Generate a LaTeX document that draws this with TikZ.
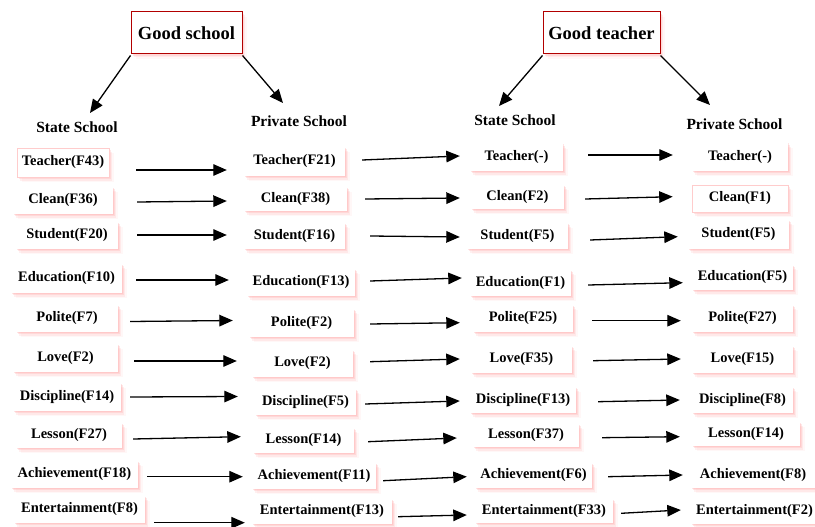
\documentclass[tikz,border=0pt]{standalone}
\usepackage{fontspec}
\setmainfont{Liberation Serif}
\usetikzlibrary{arrows.meta,calc,shadows}
\tikzset{
  glow/.style={
    drop shadow={shadow xshift=0.5pt,shadow yshift=-0.5pt,fill=red!40,opacity=0.25},
    drop shadow={shadow xshift=1.5pt,shadow yshift=-2pt,fill=red!40,opacity=0.22},
    drop shadow={shadow xshift=3pt,shadow yshift=-3.5pt,fill=red!35,opacity=0.16},
    drop shadow={shadow xshift=4.5pt,shadow yshift=-5pt,fill=red!30,opacity=0.1}},
  box/.style={glow,fill=white,inner sep=0pt,font=\bfseries\fontsize{14.5}{16}\selectfont,text=black},
  pinkedge/.style={draw=red!20,line width=0.6pt},
  titlebox/.style={glow,fill=white,draw=red!70!black,line width=1pt,inner sep=0pt,
    font=\bfseries\fontsize{18.5}{20}\selectfont},
  head/.style={font=\bfseries\fontsize{15.5}{18}\selectfont,inner sep=0pt},
  arr/.style={-{Triangle[length=13.5pt,width=11.5pt]},line width=1.3pt},
}
\newcommand\bx[7][]{\node[box,#1,minimum width=#5pt,minimum height=#6pt] (#2) at (#3,#4) {#7};}
\begin{document}
\begin{tikzpicture}[x=1pt,y=-1pt]
\fill[white] (0,0) rectangle (815,527);
\useasboundingbox (0,0) rectangle (815,527);

% titles
\node[titlebox,minimum width=111pt,minimum height=42pt] (gs) at (186.5,33) {Good school};
\node[titlebox,minimum width=117pt,minimum height=42pt] (gt) at (601.5,33) {Good teacher};

% headings
\node[head] (h1) at (77,127) {State School};
\node[head] (h2) at (299,121) {Private School};
\node[head] (h3) at (515,120) {State School};
\node[head] (h4) at (734.5,124) {Private School};

% column 1
\bx[pinkedge]{a1}{63}{162.5}{92}{29}{Teacher(F43)}
\bx{a2}{63}{200.5}{100}{27}{Clean(F36)}
\bx{a3}{67}{235.5}{102}{27}{Student(F20)}
\bx{a4}{66.5}{278.5}{111}{29}{Education(F10)}
\bx{a5}{67}{318.5}{102}{27}{Polite(F7)}
\bx{a6}{65.5}{358}{105}{28}{Love(F2)}
\bx{a7}{67}{397}{108}{28}{Discipline(F14)}
\bx{a8}{69}{435.5}{106}{25}{Lesson(F27)}
\bx{a9}{74.5}{474.5}{127}{27}{Achievement(F18)}
\bx{a10}{79.5}{509.5}{131}{27}{Entertainment(F8)}

% column 2
\bx{b1}{294.5}{161.5}{101}{29}{Teacher(F21)}
\bx{b2}{295.5}{199}{103}{24}{Clean(F38)}
\bx{b3}{294.5}{236}{101}{26}{Student(F16)}
\bx{b4}{301}{282.5}{108}{27}{Education(F13)}
\bx{b5}{301.5}{323}{105}{28}{Polite(F2)}
\bx{b6}{302.5}{363.5}{101}{27}{Love(F2)}
\bx{b7}{305.5}{402}{101}{26}{Discipline(F5)}
\bx{b8}{303.5}{440.5}{101}{25}{Lesson(F14)}
\bx{b9}{314}{476}{124}{26}{Achievement(F11)}
\bx{b10}{322}{511.5}{140}{25}{Entertainment(F13)}

% column 3
\bx{c1}{516.5}{157.5}{93}{27}{Teacher(-)}
\bx{c2}{517.5}{197}{93}{24}{Clean(F2)}
\bx{c3}{517.5}{236}{101}{26}{Student(F5)}
\bx{c4}{520.5}{283}{101}{26}{Education(F1)}
\bx{c5}{523}{318.5}{100}{27}{Polite(F25)}
\bx{c6}{521.5}{359.5}{101}{27}{Love(F35)}
\bx{c7}{523}{400}{106}{26}{Discipline(F13)}
\bx{c8}{526}{435.5}{106}{23}{Lesson(F37)}
\bx{c9}{533.5}{475.5}{117}{25}{Achievement(F6)}
\bx{c10}{544}{511}{138}{24}{Entertainment(F33)}

% column 4
\bx{d1}{740}{157}{96}{28}{Teacher(-)}
\bx[pinkedge]{d2}{740}{198.5}{96}{27}{Clean(F1)}
\bx{d3}{738.5}{234.5}{101}{29}{Student(F5)}
\bx{d4}{742.5}{277.5}{101}{25}{Education(F5)}
\bx{d5}{742.5}{318.5}{101}{27}{Polite(F27)}
\bx{d6}{742.5}{359.5}{101}{27}{Love(F15)}
\bx{d7}{742.5}{400}{101}{26}{Discipline(F8)}
\bx{d8}{746}{434}{108}{24}{Lesson(F14)}
\bx{d9}{753}{475}{124}{26}{Achievement(F8)}
\bx{d10}{754.5}{511.5}{127}{25}{Entertainment(F2)}

% title arrows
\draw[arr] ($(gs.south west)+(0,1)$) -- ($(h1.center)+(13,-14)$);
\draw[arr] ($(gs.south east)+(0,1)$) -- ($(h2.center)+(-16,-18)$);
\draw[arr] ($(gt.south west)+(0,1)$) -- ($(h3.center)+(-16,-14)$);
\draw[arr] ($(gt.south east)+(0,1)$) -- ($(h4.center)+(-24.5,-19)$);

% column 1 -> column 2
\draw[arr] ($(a1.east)+(27,7.5)$) -- ($(b1.west)+(-17,8.5)$);
\draw[arr] ($(a2.east)+(24,1.5)$) -- ($(b2.west)+(-17,2)$);
\draw[arr] ($(a3.east)+(19,-0.5)$) -- ($(b3.west)+(-17,-1)$);
\draw[arr] ($(a4.east)+(14,1.5)$) -- ($(b4.west)+(-18,-2.5)$);
\draw[arr] ($(a5.east)+(12,3)$) -- ($(b5.west)+(-16,-2.5)$);
\draw[arr] ($(a6.east)+(16,3)$) -- ($(b6.west)+(-15,-2.5)$);
\draw[arr] ($(a7.east)+(9,0)$) -- ($(b7.west)+(-17,-5.5)$);
\draw[arr] ($(a8.east)+(11,3.5)$) -- ($(b8.west)+(-12,-3.8)$);
\draw[arr] ($(a9.east)+(9,2.2)$) -- ($(b9.west)+(-9,0.7)$);
\draw[arr] ($(a10.east)+(9,13.2)$) -- ($(b10.west)+(-7,11.2)$);

% column 2 -> column 3
\draw[arr] ($(b1.east)+(17,-1.5)$) -- ($(c1.west)+(-10,-1.5)$);
\draw[arr] ($(b2.east)+(18,0)$) -- ($(c2.west)+(-11,1)$);
\draw[arr] ($(b3.east)+(25,0)$) -- ($(c3.west)+(-7,1)$);
\draw[arr] ($(b4.east)+(15,-1.5)$) -- ($(c4.west)+(-8,-5)$);
\draw[arr] ($(b5.east)+(16,1)$) -- ($(c5.west)+(-13,4.2)$);
\draw[arr] ($(b6.east)+(17,-1.8)$) -- ($(c6.west)+(-11,-0.5)$);
\draw[arr] ($(b7.east)+(9,2)$) -- ($(c7.west)+(-10,1)$);
\draw[arr] ($(b8.east)+(14,1.2)$) -- ($(c8.west)+(-16,2.5)$);
\draw[arr] ($(b9.east)+(7,4.7)$) -- ($(c9.west)+(-8,1.2)$);
\draw[arr] ($(b10.east)+(6,5.2)$) -- ($(c10.west)+(-8,4)$);

% column 3 -> column 4
\draw[arr] ($(c1.east)+(25,-2.5)$) -- ($(d1.west)+(-19,-2)$);
\draw[arr] ($(c2.east)+(21,2)$) -- ($(d2.west)+(-19,-1.8)$);
\draw[arr] ($(c3.east)+(22,4)$) -- ($(d3.west)+(-10,2.2)$);
\draw[arr] ($(c4.east)+(17,2)$) -- ($(d4.west)+(-9,5.2)$);
\draw[arr] ($(c5.east)+(19,2.2)$) -- ($(d5.west)+(-11,2.2)$);
\draw[arr] ($(c6.east)+(21,1.2)$) -- ($(d6.west)+(-11,-0.5)$);
\draw[arr] ($(c7.east)+(22,1.7)$) -- ($(d7.west)+(-12,0)$);
\draw[arr] ($(c8.east)+(23,2.2)$) -- ($(d8.west)+(-12,2.7)$);
\draw[arr] ($(c9.east)+(16,1.2)$) -- ($(d9.west)+(-8,0)$);
\draw[arr] ($(c10.east)+(8,2.3)$) -- ($(d10.west)+(-10,-1.5)$);
\end{tikzpicture}
\end{document}
